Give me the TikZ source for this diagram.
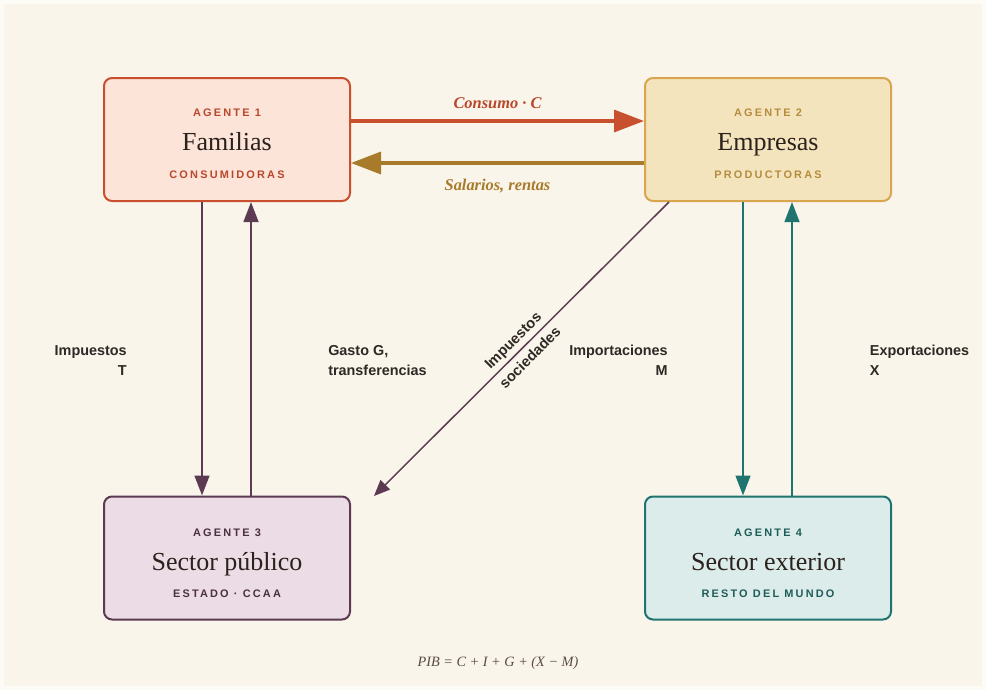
\documentclass[tikz,border=0pt]{standalone}
\usepackage{fontspec}
\setmainfont{Liberation Serif}
\setsansfont{Liberation Sans}
\newfontfamily\tagfont[LetterSpace=20]{Liberation Sans}
\usetikzlibrary{arrows.meta, positioning}

\definecolor{outer}{HTML}{FDFBF6}
\definecolor{paper}{HTML}{F9F5EB}
\definecolor{ink}{HTML}{2B211D}
\definecolor{labelink}{HTML}{2F2824}
\definecolor{famline}{HTML}{C9502E}
\definecolor{famfill}{HTML}{FCE4D8}
\definecolor{famtag}{HTML}{B8472B}
\definecolor{empline}{HTML}{D9A54F}
\definecolor{empfill}{HTML}{F4E4BD}
\definecolor{emptag}{HTML}{B58C3E}
\definecolor{salline}{HTML}{A87B2B}
\definecolor{publine}{HTML}{5C3A52}
\definecolor{pubfill}{HTML}{EBDCE5}
\definecolor{pubtag}{HTML}{4A3040}
\definecolor{extline}{HTML}{1F7470}
\definecolor{extfill}{HTML}{DCECEB}
\definecolor{exttag}{HTML}{1E5C58}
\definecolor{pibink}{HTML}{5B4A43}

\begin{document}
\begin{tikzpicture}[x=0.75pt,y=-0.75pt,
	agent/.style={rectangle, draw, rounded corners=6pt, line width=1.5pt, minimum width=184.5pt, minimum height=92.25pt},
	tag/.style={anchor=base, inner sep=0pt, font=\tagfont\bfseries\fontsize{8.2}{9}\selectfont},
	title/.style={anchor=base, inner sep=0pt, text=ink, font=\fontsize{19.5}{22}\selectfont},
	flowlabel/.style={inner sep=0pt, text=labelink, font=\sffamily\bfseries\fontsize{10.8}{15}\selectfont},
	moneylabel/.style={inner sep=0pt, font=\bfseries\itshape\fontsize{12.3}{15}\selectfont},
	bigflow/.style={line width=2.6pt, -{Triangle[length=22.5pt,width=16.5pt]}},
	flow/.style={line width=1.9pt, -{Triangle[length=15pt,width=11pt]}},
	thinflow/.style={line width=1.1pt, -{Triangle[length=12pt,width=10pt]}}]

	% paper
	\fill[outer] (0,0) rectangle (986,690);
	\fill[paper] (4,4) rectangle (982,686);

	% agents
	\node[agent, draw=famline, fill=famfill	] (FAMILIAS) 	at (227,139.5) 	{};
	\node[agent, draw=empline, fill=empfill	] (EMPRESAS) 	at (768,139.5) 	{};
	\node[agent, draw=publine, fill=pubfill	] (PUBLICO) 	at (227,558) 	{};
	\node[agent, draw=extline, fill=extfill	] (EXTERIOR) 	at (768,558) 	{};

	\node[tag, text=famtag	] (FAMILIAS_TAG) 	at ([yshift=16.9pt]FAMILIAS.center) 	{AGENTE 1};
	\node[title				] (FAMILIAS_NAME) 	at ([yshift=-8.6pt]FAMILIAS.center) 	{Familias};
	\node[tag, text=famtag	] (FAMILIAS_SUB) 	at ([yshift=-29.6pt]FAMILIAS.center) 	{CONSUMIDORAS};

	\node[tag, text=emptag	] (EMPRESAS_TAG) 	at ([yshift=16.9pt]EMPRESAS.center) 	{AGENTE 2};
	\node[title				] (EMPRESAS_NAME) 	at ([yshift=-8.6pt]EMPRESAS.center) 	{Empresas};
	\node[tag, text=emptag	] (EMPRESAS_SUB) 	at ([yshift=-29.6pt]EMPRESAS.center) 	{PRODUCTORAS};

	\node[tag, text=pubtag	] (PUBLICO_TAG) 	at ([yshift=16.5pt]PUBLICO.center) 		{AGENTE 3};
	\node[title				] (PUBLICO_NAME) 	at ([yshift=-9.5pt]PUBLICO.center) 		{Sector público};
	\node[tag, text=pubtag	] (PUBLICO_SUB) 	at ([yshift=-29.3pt]PUBLICO.center) 	{ESTADO · CCAA};

	\node[tag, text=exttag	] (EXTERIOR_TAG) 	at ([yshift=16.5pt]EXTERIOR.center) 	{AGENTE 4};
	\node[title				] (EXTERIOR_NAME) 	at ([yshift=-9.5pt]EXTERIOR.center) 	{Sector exterior};
	\node[tag, text=exttag	] (EXTERIOR_SUB) 	at ([yshift=-29.3pt]EXTERIOR.center) 	{RESTO DEL MUNDO};

	\coordinate (SOCIEDADES_END) at (374,496);

	% flows
	\draw[bigflow, famline	] (FAMILIAS.east |- 0,121) -- node[moneylabel, text=famtag, yshift=13.5pt] {Consumo · C} (EMPRESAS.west |- 0,121);
	\draw[bigflow, salline	] (EMPRESAS.west |- 0,163) -- node[moneylabel, text=salline, yshift=-17pt] {Salarios, rentas} (FAMILIAS.east |- 0,163);

	\draw[flow, publine		] (FAMILIAS.south -| 202,0) -- node[flowlabel, pos=.54, left=55.5pt, align=right] {Impuestos\\T} (PUBLICO.north -| 202,0);
	\draw[flow, publine		] (PUBLICO.north -| 251,0) -- node[flowlabel, pos=.46, right=57pt, align=left] {Gasto G,\\transferencias} (FAMILIAS.south -| 251,0);
	\draw[thinflow, publine	] (EMPRESAS.south -| 669,0) -- node[flowlabel, rotate=45, align=center, font=\sffamily\bfseries\fontsize{11}{18}\selectfont] {Impuestos\\sociedades} (SOCIEDADES_END);

	\draw[flow, extline		] (EMPRESAS.south -| 743,0) -- node[flowlabel, pos=.54, left=55.5pt, align=right] {Importaciones\\M} (EXTERIOR.north -| 743,0);
	\draw[flow, extline		] (EXTERIOR.north -| 792,0) -- node[flowlabel, pos=.46, right=57.5pt, align=left] {Exportaciones\\X} (EMPRESAS.south -| 792,0);

	% identity
	\node[text=pibink, font=\itshape\fontsize{10.7}{12}\selectfont] (PIB) at (498,663) {PIB = C + I + G + (X − M)};

\end{tikzpicture}
\end{document}
